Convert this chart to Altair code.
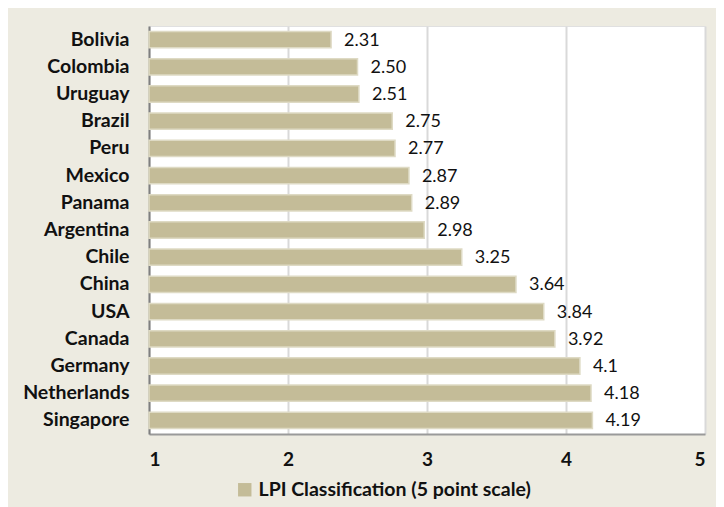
import altair as alt
import pandas as pd

countries = ["Bolivia", "Colombia", "Uruguay", "Brazil", "Peru", "Mexico", "Panama",
             "Argentina", "Chile", "China", "USA", "Canada", "Germany", "Netherlands", "Singapore"]
values = [2.31, 2.50, 2.51, 2.75, 2.77, 2.87, 2.89, 2.98, 3.25, 3.64, 3.84, 3.92, 4.1, 4.18, 4.19]
labels = ["2.31", "2.50", "2.51", "2.75", "2.77", "2.87", "2.89", "2.98", "3.25", "3.64",
          "3.84", "3.92", "4.1", "4.18", "4.19"]
series_name = "LPI Classification (5 point scale)"

df = pd.DataFrame({"country": countries, "value": values, "label": labels,
                   "series": [series_name] * len(countries)})

FONT = "Lato"
y_enc = alt.Y("country:N", sort=countries, title=None,
              scale=alt.Scale(paddingInner=0.4, paddingOuter=0.2),
              axis=alt.Axis(labelFont=FONT, labelFontWeight="bold", labelFontSize=19.5,
                            labelColor="#111111", labelPadding=20, ticks=False,
                            labelLimit=0,
                            domainColor="#7f7f7f", domainWidth=2))

bars = alt.Chart(df).mark_bar(stroke="#DEDAC4", strokeWidth=1.5).encode(
    x=alt.X("value:Q", scale=alt.Scale(domain=[1, 5], nice=False), title=None,
            axis=alt.Axis(values=[1, 2, 3, 4, 5], format="d", labelFont=FONT,
                          labelFontWeight="bold",
                          labelFontSize=19, labelColor="#111111", labelPadding=16,
                          ticks=False, gridColor="#d9d9d9", gridWidth=2,
                          domainColor="#9a9a9a", domainWidth=2)),
    x2=alt.datum(1),
    y=y_enc,
    color=alt.Color("series:N", scale=alt.Scale(range=["#C4BC98"]),
                    legend=alt.Legend(title=None, orient="none", legendX=86, legendY=454,
                                      symbolType="square", symbolSize=180,
                                      symbolStrokeWidth=0, labelLimit=0,
                                      labelFont=FONT, labelFontWeight="bold",
                                      labelFontSize=19.5, labelColor="#111111")),
)

text = alt.Chart(df).mark_text(align="left", baseline="middle", dx=13, dy=1,
                               font=FONT, fontSize=18, color="#111111").encode(
    x="value:Q",
    y=alt.Y("country:N", sort=countries),
    text="label:N",
)

chart = (bars + text).properties(
    width=556, height=408,
    background="#EDEBE1",
    padding={"left": 141, "top": 18, "right": 11, "bottom": 73},
    autosize=alt.AutoSizeParams(type="none"),
).configure_view(fill="white", stroke="#e0e0e0")

chart.save("out.html", embed_options={"renderer": "svg", "actions": False})
